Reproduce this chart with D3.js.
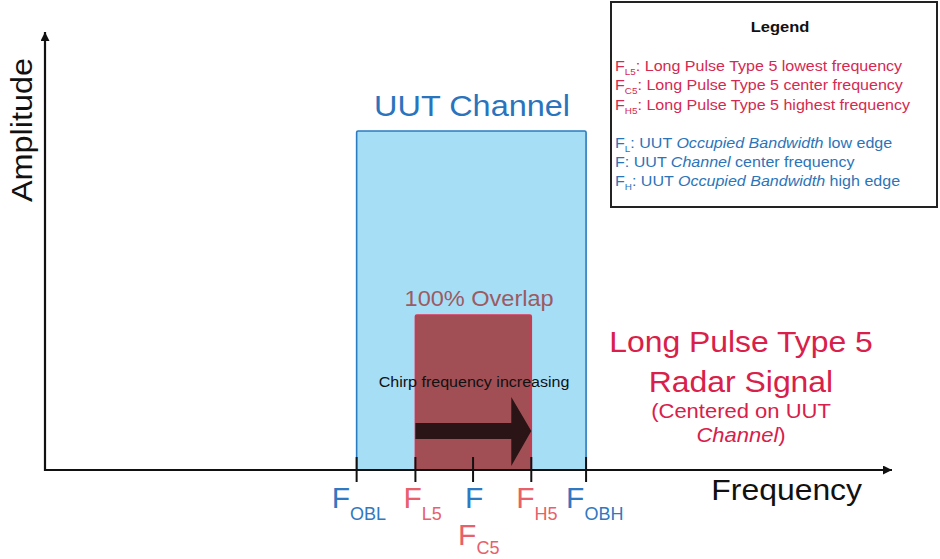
<!DOCTYPE html>
<html>
<head>
<meta charset="utf-8">
<script src="https://cdn.jsdelivr.net/npm/d3@7"></script>
<style>
  body { margin: 0; background: #fff; }
  text { font-family: "Liberation Sans", Arial, sans-serif; }
</style>
</head>
<body>
<div id="visualize"></div>
<script>
// frequency markers (relative units, channel center = 0)
var markers = ["OBL", "L5", "F", "H5", "OBH"];
var markerFreq = [-10.2, -5.05, 0, 5.1, 9.9];
var markerColor = ["#2f78c2", "#e8606a", "#2f78c2", "#e8606a", "#2f78c2"];

// bands: UUT channel and the radar signal
var bands = ["UUT Channel", "Long Pulse Type 5"];
var bandLow = [-10.2, -5.05];
var bandHigh = [9.9, 5.1];
var bandAmp = [1.0, 0.457];

// chirp arrow, start/end frequency
var chirpFreq = [-5.05, 5.1];

var legendRed = [["L5", "Long Pulse Type 5 lowest frequency"],
                 ["C5", "Long Pulse Type 5 center frequency"],
                 ["H5", "Long Pulse Type 5 highest frequency"]];

// text a bit wider than Arial, like the original drawing
var K = 1.1;
function label(parent, x, y, size, opts) {
  opts = opts || {};
  var t = parent.append("text")
      .attr("transform", "translate(" + x + "," + y + ")" +
            (opts.rotate ? " rotate(" + opts.rotate + ")" : "") +
            " scale(" + (opts.k || K) + ",1)")
      .style("font-size", size + "px")
      .style("fill", opts.color || "#111")
      .style("text-anchor", opts.anchor || "start");
  if (opts.bold) t.style("font-weight", "bold");
  if (opts.text) t.text(opts.text);
  return t;
}

function draw() {
  var width = 940, height = 559;

  var x = d3.scaleLinear().domain([-37.5, 36.7]).range([45, 892]);
  var y = d3.scaleLinear().domain([0, 1.292]).range([470, 32]);

  var svg = d3.select("#visualize").append("svg")
      .attr("width", width)
      .attr("height", height);

  svg.append("defs").append("marker")
      .attr("id", "arr")
      .attr("viewBox", "0 0 10 10")
      .attr("refX", 10).attr("refY", 5)
      .attr("markerWidth", 20).attr("markerHeight", 9)
      .attr("markerUnits", "userSpaceOnUse")
      .attr("orient", "auto")
    .append("path")
      .attr("d", "M0,0 L10,5 L0,10 Z")
      .attr("fill", "#111");

  // bands
  var bandFill = ["#a6def6", "#a14f55"];
  var bandStroke = ["#2a7bc0", "#e0304f"];
  svg.selectAll(".band")
      .data(bands)
    .enter().append("rect")
      .attr("class", "band")
      .attr("x", function(d, i) { return x(bandLow[i]); })
      .attr("y", function(d, i) { return y(bandAmp[i]); })
      .attr("width", function(d, i) { return x(bandHigh[i]) - x(bandLow[i]); })
      .attr("height", function(d, i) { return y(0) - y(bandAmp[i]); })
      .attr("rx", 1.5)
      .style("fill", function(d, i) { return bandFill[i]; })
      .style("stroke", function(d, i) { return bandStroke[i]; })
      .style("stroke-width", 1.6);

  var cx = x(0);
  label(svg, cx - 1, 116, 29.5, { anchor: "middle", color: "#2a74bd", text: "UUT Channel" });
  label(svg, cx + 6, 306, 22, { anchor: "middle", color: "#9c5a62", k: 1.07, text: "100% Overlap" });
  label(svg, cx + 1, 387, 14.6, { anchor: "middle", text: "Chirp frequency increasing" });

  // chirp arrow
  var a0 = x(chirpFreq[0]), a1 = x(chirpFreq[1]), ay = 431;
  var headW = 20;
  svg.append("path")
      .attr("d", "M" + a0 + "," + (ay - 8) + " L" + (a1 - headW) + "," + (ay - 8) +
                 " L" + (a1 - headW) + "," + (ay - 34) + " L" + a1 + "," + ay +
                 " L" + (a1 - headW) + "," + (ay + 35) + " L" + (a1 - headW) + "," + (ay + 8) +
                 " L" + a0 + "," + (ay + 8) + " Z")
      .style("fill", "#2a1416");

  // axes
  svg.append("line")
      .attr("x1", x.range()[0]).attr("y1", y(0))
      .attr("x2", x.range()[1]).attr("y2", y(0))
      .style("stroke", "#111").style("stroke-width", 2.2)
      .attr("marker-end", "url(#arr)");
  svg.append("line")
      .attr("x1", x.range()[0]).attr("y1", y(0) + 1)
      .attr("x2", x.range()[0]).attr("y2", y.range()[1])
      .style("stroke", "#111").style("stroke-width", 2.2)
      .attr("marker-end", "url(#arr)");

  // ticks
  svg.selectAll(".tick")
      .data(markers)
    .enter().append("line")
      .attr("class", "tick")
      .attr("x1", function(d, i) { return x(markerFreq[i]); })
      .attr("x2", function(d, i) { return x(markerFreq[i]); })
      .attr("y1", y(0) - 13).attr("y2", y(0) + 12)
      .style("stroke", "#111").style("stroke-width", 2);

  // tick labels
  var off = { OBL: -25, L5: -12, F: -8, H5: -15, OBH: -20 };
  markers.forEach(function(d, i) {
    var t = label(svg, x(markerFreq[i]) + off[d], 508, 30, { k: 1.0, color: markerColor[i] });
    t.append("tspan").text("F");
    if (d != "F") {
      t.append("tspan").attr("dy", 12).style("font-size", "18px").text(d);
    }
  });

  // F_C5 under the center tick
  var c5 = label(svg, x(0) - 15, 545, 30, { k: 1.0, color: "#e8606a" });
  c5.append("tspan").text("F");
  c5.append("tspan").attr("dy", 9).style("font-size", "18px").text("C5");

  // axis titles
  label(svg, 862, 500, 29, { anchor: "end", text: "Frequency" });
  label(svg, 32, 130, 29.5, { anchor: "middle", rotate: -90, text: "Amplitude" });

  // radar signal label
  var rx = 741;
  var red = "#d8204a";
  label(svg, rx, 352, 29, { anchor: "middle", color: red, text: "Long Pulse Type 5" });
  label(svg, rx, 392, 29, { anchor: "middle", color: red, text: "Radar Signal" });
  label(svg, rx, 418, 20, { anchor: "middle", color: red, text: "(Centered on UUT" });
  var ch = label(svg, rx, 442, 20, { anchor: "middle", color: red });
  ch.append("tspan").style("font-style", "italic").text("Channel");
  ch.append("tspan").text(")");

  // legend box
  var lg = svg.append("g").attr("transform", "translate(611, 2)");
  lg.append("rect")
      .attr("width", 326).attr("height", 205)
      .style("fill", "#fff").style("stroke", "#222").style("stroke-width", 2);
  label(lg, 169, 30, 15, { anchor: "middle", bold: true, text: "Legend" });

  var fs = 14.6;
  legendRed.forEach(function(d, i) {
    var t = label(lg, 4, 69 + i * 19.3, fs, { color: "#d42a52" });
    t.append("tspan").text("F");
    t.append("tspan").attr("dy", 4).style("font-size", "9px").text(d[0]);
    t.append("tspan").attr("dy", -4).text(": " + d[1]);
  });

  var blue = "#2c74b8";
  var l1 = label(lg, 4, 146, fs, { color: blue });
  l1.append("tspan").text("F");
  l1.append("tspan").attr("dy", 4).style("font-size", "9px").text("L");
  l1.append("tspan").attr("dy", -4).text(": UUT ");
  l1.append("tspan").style("font-style", "italic").text("Occupied Bandwidth");
  l1.append("tspan").text(" low edge");

  var l2 = label(lg, 4, 165, fs, { color: blue });
  l2.append("tspan").text("F: UUT ");
  l2.append("tspan").style("font-style", "italic").text("Channel");
  l2.append("tspan").text(" center frequency");

  var l3 = label(lg, 4, 184, fs, { color: blue });
  l3.append("tspan").text("F");
  l3.append("tspan").attr("dy", 4).style("font-size", "9px").text("H");
  l3.append("tspan").attr("dy", -4).text(": UUT ");
  l3.append("tspan").style("font-style", "italic").text("Occupied Bandwidth");
  l3.append("tspan").text(" high edge");
}

draw();
</script>
</body>
</html>
